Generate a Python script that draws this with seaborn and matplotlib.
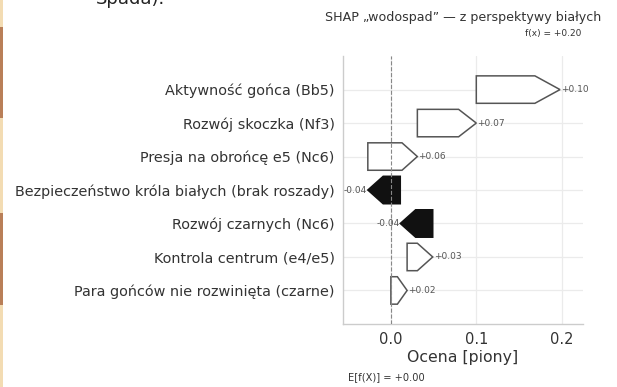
import matplotlib
matplotlib.use("Agg")
import matplotlib.pyplot as plt
import matplotlib.transforms as mtransforms
from matplotlib.patches import Rectangle
import numpy as np
import seaborn as sns

sns.set_theme(style="whitegrid")
plt.rcParams["font.family"] = ["DejaVu Sans"]

# features listed top to bottom, with their SHAP contributions (pawns)
features = [
    "Aktywność gońca (Bb5)",
    "Rozwój skoczka (Nf3)",
    "Presja na obrońcę e5 (Nc6)",
    "Bezpieczeństwo króla białych (brak roszady)",
    "Rozwój czarnych (Nc6)",
    "Kontrola centrum (e4/e5)",
    "Para gońców nie rozwinięta (czarne)",
]
shap_values = [0.098, 0.069, 0.058, -0.038, -0.038, 0.030, 0.019]
base_value = 0.0
x_ticks = [0.0, 0.1, 0.2]

title = "SHAP „wodospad” — z perspektywy białych"
x_label = "Ocena [piony]"

n = len(features)
rows = np.arange(n)[::-1]  # top feature drawn highest

# waterfall accumulates from the bottom feature upwards
vals_bottom_up = shap_values[::-1]
starts_bottom_up = base_value + np.concatenate([[0.0], np.cumsum(vals_bottom_up)[:-1]])
starts = starts_bottom_up[::-1]
f_x = base_value + sum(shap_values)

fig, ax = plt.subplots(figsize=(6.17, 3.87), dpi=100)
fig.subplots_adjust(left=0.556, right=0.945, top=0.855, bottom=0.163)

half_h = 0.41
for y, s, v in zip(rows, starts, shap_values):
    length = abs(v)
    head = min(max(0.3 * length, 0.018), 0.6 * length)
    e = s + v
    if v >= 0:
        xs = [s, e - head, e, e - head, s]
        face, edge = "white", "#555555"
        ax.text(e + 0.001, y, f"+{v:.2f}", ha="left", va="center",
                fontsize=6.5, color="#555555", zorder=5)
    else:
        xs = [s, e + head, e, e + head, s]
        face, edge = "#111111", "#111111"
        ax.text(e - 0.001, y, f"{v:.2f}", ha="right", va="center",
                fontsize=6.5, color="#555555", zorder=5)
    ys = [y - half_h, y - half_h, y, y + half_h, y + half_h]
    ax.fill(xs, ys, facecolor=face, edgecolor=edge, linewidth=1.1, zorder=2)

ax.axvline(base_value, color="#888888", linestyle="--", linewidth=0.8, zorder=4)

ax.set_xlim(-0.056, 0.225)
ax.set_ylim(-1, n)
ax.set_yticks(rows)
ax.set_yticklabels(features, fontsize=10.4, color="#333333")
ax.set_xticks(x_ticks)
ax.set_xticklabels([f"{t:.1f}" for t in x_ticks], fontsize=10.5, color="#333333")
ax.tick_params(axis="both", length=0)
ax.tick_params(axis="y", pad=6)
ax.tick_params(axis="x", pad=6)
ax.set_xlabel(x_label, fontsize=11.3, color="#333333", labelpad=2)

ax.grid(True, color="#ebebeb", linewidth=0.9, zorder=0)
ax.set_axisbelow(True)
sns.despine(ax=ax, top=True, right=True)
for side in ["left", "bottom"]:
    ax.spines[side].set_color("#cccccc")
    ax.spines[side].set_linewidth(1.0)

trans = mtransforms.blended_transform_factory(ax.transData, ax.transAxes)
ax.text(0.5, 1.146, title, transform=ax.transAxes, ha="center", va="center",
        fontsize=9.1, color="#333333")
ax.text(f_x - 0.008, 1.086, f"f(x) = {f_x:+.2f}", transform=trans, ha="center",
        va="center", fontsize=6.5, color="#333333")
ax.text(base_value - 0.005, -0.20, f"E[f(X)] = {base_value:+.2f}", transform=trans,
        ha="center", va="center", fontsize=7.1, color="#333333")

# page decoration: coloured strip on the left edge and cut-off text above
strip = [("#f3dcb3", 0.0, 27), ("#b97f58", 27, 118), ("#f3dcb3", 118, 213),
         ("#b97f58", 213, 305), ("#f3dcb3", 305, 387)]
for color, y0, y1 in strip:
    fig.add_artist(Rectangle((0, 1 - y1 / 387), 3 / 617, (y1 - y0) / 387,
                             transform=fig.transFigure, color=color, lw=0))
fig.text(96 / 617, 1 - 4 / 387, "Spada).", ha="left", va="baseline",
         fontsize=13, color="#222222")

fig.savefig("out.png", dpi=100)
